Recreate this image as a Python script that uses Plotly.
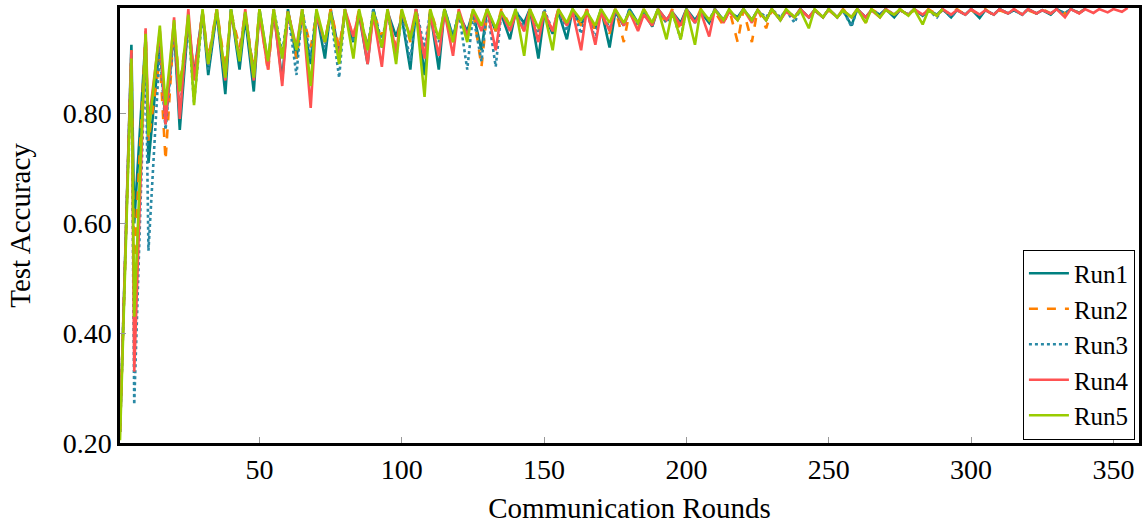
import plotly.graph_objects as go

# ---------------- data ----------------
start_round = 1
peak_rounds = [5, 10, 15, 20, 25, 30, 35, 40, 45, 50, 55, 60, 65, 70, 75, 80,
               85, 90, 95, 100, 105, 110, 115, 120, 125, 130, 135, 140, 145, 150, 155, 160,
               165, 170, 175, 180, 185, 190, 195, 200, 205, 210, 215, 220, 225, 230, 235, 240,
               245, 250, 255, 260, 265, 270, 275, 280, 285, 290, 295, 300, 305, 310, 315, 320,
               325, 330, 335, 340, 345, 350, 355]
dip_rounds = [6, 11, 17, 22, 27, 32, 38, 43, 48, 53, 58, 63, 68, 73, 78, 83,
              88, 93, 98, 103, 108, 113, 118, 123, 128, 133, 138, 143, 148, 153, 158, 163,
              168, 173, 178, 183, 188, 193, 198, 203, 208, 213, 218, 223, 228, 233, 238, 243,
              248, 253, 258, 263, 268, 273, 278, 283, 288, 293, 298, 303, 308, 313, 318, 323,
              328, 333, 338, 343, 348, 353]

run1_start = 0.22
run1_peaks = [0.925, 0.94, 0.93, 0.955, 0.97, 0.985, 0.985, 0.99, 0.975, 0.99, 0.985, 0.99, 0.98, 0.985, 0.99, 0.985,
              0.98, 0.99, 0.985, 0.975, 0.99, 0.985, 0.99, 0.98, 0.985, 0.99, 0.98, 0.985, 0.99, 0.98, 0.985, 0.99,
              0.985, 0.99, 0.985, 0.99, 0.985, 0.99, 0.985, 0.99, 0.985, 0.99, 0.985, 0.99, 0.988, 0.99, 0.988, 0.99,
              0.988, 0.99, 0.988, 0.99, 0.988, 0.99, 0.988, 0.99, 0.988, 0.99, 0.988, 0.99, 0.988, 0.99, 0.988, 0.99,
              0.988, 0.99, 0.99, 0.99]
run1_dips = [0.60, 0.71, 0.78, 0.77, 0.87, 0.87, 0.835, 0.88, 0.84, 0.89, 0.86, 0.90, 0.89, 0.90, 0.91, 0.93,
             0.89, 0.92, 0.94, 0.88, 0.87, 0.88, 0.94, 0.95, 0.915, 0.95, 0.935, 0.965, 0.90, 0.945, 0.935, 0.96,
             0.955, 0.92, 0.96, 0.965, 0.958, 0.97, 0.965, 0.97, 0.965, 0.97, 0.975, 0.97, 0.97, 0.97, 0.975, 0.975,
             0.975, 0.975, 0.96, 0.975, 0.98, 0.975, 0.98, 0.978, 0.98, 0.975, 0.98, 0.974, 0.98, 0.982, 0.98, 0.982,
             0.98, 0.982, 0.983]

run2_start = 0.22
run2_peaks = [0.915, 0.95, 0.90, 0.96, 0.97, 0.985, 0.99, 0.985, 0.98, 0.99, 0.985, 0.99, 0.985, 0.98, 0.99, 0.985,
              0.99, 0.985, 0.98, 0.99, 0.985, 0.99, 0.985, 0.98, 0.99, 0.985, 0.99, 0.985, 0.99, 0.985, 0.99, 0.985,
              0.99, 0.985, 0.99, 0.985, 0.99, 0.985, 0.99, 0.985, 0.99, 0.985, 0.99, 0.988, 0.99, 0.988, 0.99, 0.988,
              0.99, 0.988, 0.99, 0.988, 0.99, 0.988, 0.99, 0.988, 0.99, 0.988, 0.99, 0.988, 0.99, 0.988, 0.99, 0.988,
              0.99, 0.988, 0.99, 0.99]
run2_dips = [0.52, 0.75, 0.715, 0.85, 0.87, 0.90, 0.88, 0.92, 0.88, 0.875, 0.90, 0.90, 0.92, 0.93, 0.92, 0.94,
             0.92, 0.94, 0.92, 0.93, 0.90, 0.94, 0.93, 0.94, 0.885, 0.95, 0.96, 0.95, 0.95, 0.95, 0.96, 0.96,
             0.95, 0.945, 0.93, 0.955, 0.965, 0.965, 0.95, 0.965, 0.97, 0.96, 0.93, 0.93, 0.955, 0.97, 0.975, 0.975,
             0.975, 0.975, 0.975, 0.965, 0.98, 0.98, 0.978, 0.978, 0.98, 0.98, 0.98, 0.98, 0.978, 0.982, 0.98, 0.982,
             0.982, 0.982, 0.983]

run3_start = 0.22
run3_peaks = [0.91, 0.93, 0.92, 0.95, 0.965, 0.98, 0.985, 0.99, 0.985, 0.98, 0.99, 0.985, 0.99, 0.985, 0.98, 0.99,
              0.985, 0.99, 0.985, 0.98, 0.99, 0.985, 0.99, 0.985, 0.98, 0.99, 0.985, 0.99, 0.985, 0.99, 0.985, 0.99,
              0.985, 0.99, 0.985, 0.99, 0.985, 0.99, 0.985, 0.99, 0.985, 0.99, 0.988, 0.99, 0.988, 0.99, 0.988, 0.99,
              0.988, 0.99, 0.988, 0.99, 0.988, 0.99, 0.988, 0.99, 0.988, 0.99, 0.988, 0.99, 0.988, 0.99, 0.988, 0.99,
              0.988, 0.99, 0.99, 0.99]
run3_dips = [0.27, 0.55, 0.77, 0.80, 0.82, 0.88, 0.86, 0.90, 0.87, 0.89, 0.91, 0.87, 0.90, 0.92, 0.865, 0.93,
             0.92, 0.93, 0.90, 0.895, 0.92, 0.93, 0.94, 0.88, 0.895, 0.885, 0.95, 0.955, 0.94, 0.95, 0.95, 0.945,
             0.935, 0.955, 0.96, 0.96, 0.965, 0.965, 0.935, 0.965, 0.97, 0.97, 0.97, 0.97, 0.975, 0.975, 0.965, 0.975,
             0.975, 0.975, 0.958, 0.975, 0.98, 0.98, 0.98, 0.978, 0.975, 0.975, 0.98, 0.978, 0.98, 0.982, 0.98, 0.982,
             0.982, 0.982, 0.983]

run4_start = 0.22
run4_peaks = [0.915, 0.955, 0.95, 0.975, 0.99, 0.985, 0.99, 0.985, 0.99, 0.98, 0.99, 0.985, 0.99, 0.98, 0.985, 0.99,
              0.985, 0.98, 0.99, 0.985, 0.99, 0.98, 0.985, 0.99, 0.985, 0.99, 0.985, 0.98, 0.99, 0.985, 0.99, 0.985,
              0.99, 0.985, 0.99, 0.985, 0.98, 0.99, 0.985, 0.99, 0.985, 0.99, 0.985, 0.99, 0.988, 0.99, 0.985, 0.99,
              0.988, 0.99, 0.988, 0.99, 0.988, 0.99, 0.988, 0.99, 0.988, 0.99, 0.988, 0.99, 0.988, 0.99, 0.99, 0.99,
              0.988, 0.99, 0.99, 0.99, 0.99, 0.99, 0.992]
run4_dips = [0.33, 0.78, 0.78, 0.79, 0.86, 0.89, 0.86, 0.90, 0.86, 0.88, 0.85, 0.92, 0.81, 0.93, 0.90, 0.94,
             0.89, 0.885, 0.91, 0.94, 0.90, 0.905, 0.905, 0.94, 0.95, 0.915, 0.95, 0.95, 0.93, 0.95, 0.96, 0.915,
             0.925, 0.95, 0.96, 0.95, 0.96, 0.97, 0.96, 0.965, 0.94, 0.965, 0.97, 0.965, 0.97, 0.97, 0.975, 0.975,
             0.975, 0.975, 0.975, 0.975, 0.975, 0.98, 0.98, 0.98, 0.978, 0.98, 0.98, 0.98, 0.98, 0.982, 0.98, 0.982,
             0.982, 0.975, 0.982, 0.983, 0.984, 0.985]

run5_start = 0.205
run5_peaks = [0.90, 0.945, 0.96, 0.97, 0.98, 0.99, 0.99, 0.99, 0.985, 0.99, 0.99, 0.985, 0.99, 0.99, 0.985, 0.99,
              0.99, 0.985, 0.99, 0.99, 0.985, 0.99, 0.99, 0.985, 0.99, 0.99, 0.985, 0.99, 0.99, 0.985, 0.99, 0.99,
              0.985, 0.99, 0.99, 0.985, 0.99, 0.99, 0.985, 0.99, 0.99, 0.988, 0.99, 0.99, 0.988, 0.99, 0.99, 0.988,
              0.99, 0.99, 0.988, 0.99, 0.99, 0.988, 0.99, 0.99, 0.988, 0.99]
run5_dips = [0.43, 0.76, 0.815, 0.84, 0.815, 0.89, 0.865, 0.895, 0.865, 0.895, 0.90, 0.915, 0.85, 0.93, 0.89, 0.90,
             0.915, 0.92, 0.89, 0.935, 0.83, 0.935, 0.93, 0.93, 0.96, 0.955, 0.96, 0.905, 0.955, 0.915, 0.965, 0.97,
             0.96, 0.965, 0.965, 0.965, 0.965, 0.935, 0.935, 0.925, 0.97, 0.97, 0.97, 0.97, 0.97, 0.97, 0.975, 0.955,
             0.975, 0.975, 0.975, 0.965, 0.975, 0.98, 0.978, 0.962, 0.978]

run_names = ["Run1", "Run2", "Run3", "Run4", "Run5"]
run_starts = [run1_start, run2_start, run3_start, run4_start, run5_start]
run_peaks = [run1_peaks, run2_peaks, run3_peaks, run4_peaks, run5_peaks]
run_dips = [run1_dips, run2_dips, run3_dips, run4_dips, run5_dips]

# ---------------- style ----------------
colors = ["#008080", "#ff8000", "#2a8aa6", "#ff5252", "#99cc00"]
dashes = ["solid", "dash", "dot", "solid", "solid"]
FONT = "Liberation Serif"


def build_series(start, peaks, dips):
    xs, ys = [start_round], [start]
    for i, p in enumerate(peaks):
        xs.append(peak_rounds[i])
        ys.append(p)
        if i < len(dips) and i < len(peaks) - 1:
            xs.append(dip_rounds[i])
            ys.append(dips[i])
    return xs, ys


fig = go.Figure()
for name, s, pk, dp, c, d in zip(run_names, run_starts, run_peaks, run_dips, colors, dashes):
    xs, ys = build_series(s, pk, dp)
    fig.add_trace(go.Scatter(x=xs, y=ys, mode="lines", name=name,
                             line=dict(color=c, width=2.6, dash=d)))

fig.update_layout(
    width=1148, height=525,
    margin=dict(l=120, r=9, t=5, b=79),
    paper_bgcolor="white", plot_bgcolor="white",
    font=dict(family=FONT, size=28, color="black"),
    showlegend=True,
    legend=dict(x=0.996, y=0.008, xanchor="right", yanchor="bottom",
                bgcolor="white", bordercolor="black", borderwidth=1,
                font=dict(family=FONT, size=25), tracegroupgap=0,
                itemwidth=40),
)
fig.update_xaxes(
    range=[1, 359], tickvals=[50, 100, 150, 200, 250, 300, 350],
    showline=True, mirror=True, linecolor="black", linewidth=2.5,
    ticks="inside", tickcolor="#999999", ticklen=6, tickwidth=1,
    showgrid=False, zeroline=False,
    title=dict(text="Communication Rounds", font=dict(family=FONT, size=29), standoff=14),
)
fig.update_yaxes(
    range=[0.2, 0.992], tickvals=[0.2, 0.4, 0.6, 0.8], tickformat=".2f",
    showline=True, mirror=True, linecolor="black", linewidth=2.5,
    ticks="inside", tickcolor="#999999", ticklen=6, tickwidth=1,
    showgrid=False, zeroline=False,
    title=dict(text="Test Accuracy", font=dict(family=FONT, size=29), standoff=24),
)

fig.write_html("out.html",
               config={"displayModeBar": False},
               post_script="document.body.style.margin='0';document.body.style.padding='0';")
